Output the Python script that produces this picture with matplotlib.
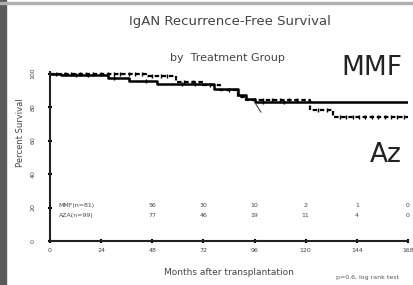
import numpy as np
import matplotlib
matplotlib.use("Agg")
import matplotlib.pyplot as plt
from matplotlib.patches import Rectangle

# Kaplan-Meier steps (months, percent)
mmf_t = [0, 5, 27, 37, 50, 77, 88, 92, 96, 168]
mmf_s = [100, 99, 97.6, 95.8, 94, 91, 87, 85, 83.3, 83.3]
az_t = [0, 45, 59, 72, 80, 88, 92, 122, 133, 168]
az_s = [100, 98.5, 95, 93, 90.5, 86, 84, 78, 74, 74]

mmf_cens = [3, 12, 18, 30, 45, 62, 68, 100, 110]
az_cens = [7, 10, 14, 17, 20, 24, 27, 30, 33, 37, 40, 43, 48, 52, 55,
           63, 67, 75, 84, 96, 100, 104, 108, 112, 116, 126, 130,
           136, 139, 142, 145, 148, 151, 154, 157, 160, 163, 166]

# numbers at risk
risk_months = [48, 72, 96, 120, 144, 168]
mmf_risk = [56, 30, 10, 2, 1, 0]
aza_risk = [77, 46, 19, 11, 4, 0]
row_labels = ["MMF(n=81)", "AZA(n=99)"]

x_ticks = [0, 24, 48, 72, 96, 120, 144, 168]
y_ticks = [0, 20, 40, 60, 80, 100]


def step_val(t, ts, ss):
    i = np.searchsorted(ts, t, side="right") - 1
    return np.array(ss)[i]


fig = plt.figure(figsize=(4.14, 2.85), dpi=100)
fig.patches.append(Rectangle((0, 0), 6 / 414, 1, transform=fig.transFigure,
                             color="#5a5a5a", zorder=0))
fig.patches.append(Rectangle((0, 1 - 4 / 285), 1, 2 / 285, transform=fig.transFigure,
                             color="#b0b0b0", zorder=0))

ax = fig.add_axes([50 / 414, 1 - 241 / 285, 358 / 414, 169 / 285])
ax.step(mmf_t, mmf_s, where="post", color="black", lw=1.8)
ax.step(az_t, az_s, where="post", color="black", lw=1.6, dashes=(2, 1.2))
ax.plot(mmf_cens, step_val(mmf_cens, mmf_t, mmf_s), ls="none", marker="|",
        ms=3, mew=1, color="black")
ax.plot(az_cens, step_val(az_cens, az_t, az_s), ls="none", marker="|",
        ms=3, mew=1, color="black")
ax.plot([96.5, 99], [82, 77], color="#333333", lw=0.7)

ax.set_xlim(0, 168)
ax.set_ylim(0, 101)
ax.set_xticks(x_ticks)
ax.set_yticks(y_ticks)
ax.tick_params(axis="both", direction="inout", length=3, width=1.5,
               labelsize=4.5, labelcolor="#444444")
ax.tick_params(axis="y", pad=9)
for lab in ax.get_yticklabels():
    lab.set_rotation(90)
    lab.set_va("center")
for sp in ["top", "right"]:
    ax.spines[sp].set_visible(False)
for sp in ["left", "bottom"]:
    ax.spines[sp].set_linewidth(1.5)
    ax.spines[sp].set_color("#222222")

ax.set_xlabel("Months after transplantation", fontsize=6.5, color="#444444")
ax.xaxis.set_label_coords(0.5, -0.16)
ax.set_ylabel("Percent Survival", fontsize=6, color="#444444")
ax.yaxis.set_label_coords(-0.07, 0.64)

for yv, lab, vals in [(21, row_labels[0], mmf_risk), (15, row_labels[1], aza_risk)]:
    ax.text(4, yv, lab, fontsize=4.5, color="#444444", va="center", ha="left")
    for m, v in zip(risk_months, vals):
        ax.text(m, yv, str(v), fontsize=4.5, color="#444444", va="center",
                ha="center", clip_on=False)

fig.text(230 / 414, 1 - 22 / 285, "IgAN Recurrence-Free Survival", fontsize=9.5,
         color="#444444", ha="center", va="center")
fig.text(227 / 414, 1 - 58 / 285, "by  Treatment Group", fontsize=8,
         color="#444444", ha="center", va="center")
fig.text(372 / 414, 1 - 68 / 285, "MMF", fontsize=19, color="#222222",
         ha="center", va="center")
fig.text(386 / 414, 1 - 155 / 285, "Az", fontsize=19, color="#222222",
         ha="center", va="center")
fig.text(368 / 414, 1 - 278 / 285, "p=0.6, log rank test", fontsize=4.5,
         color="#555555", ha="center", va="center")

fig.savefig("out.png", dpi=100)
